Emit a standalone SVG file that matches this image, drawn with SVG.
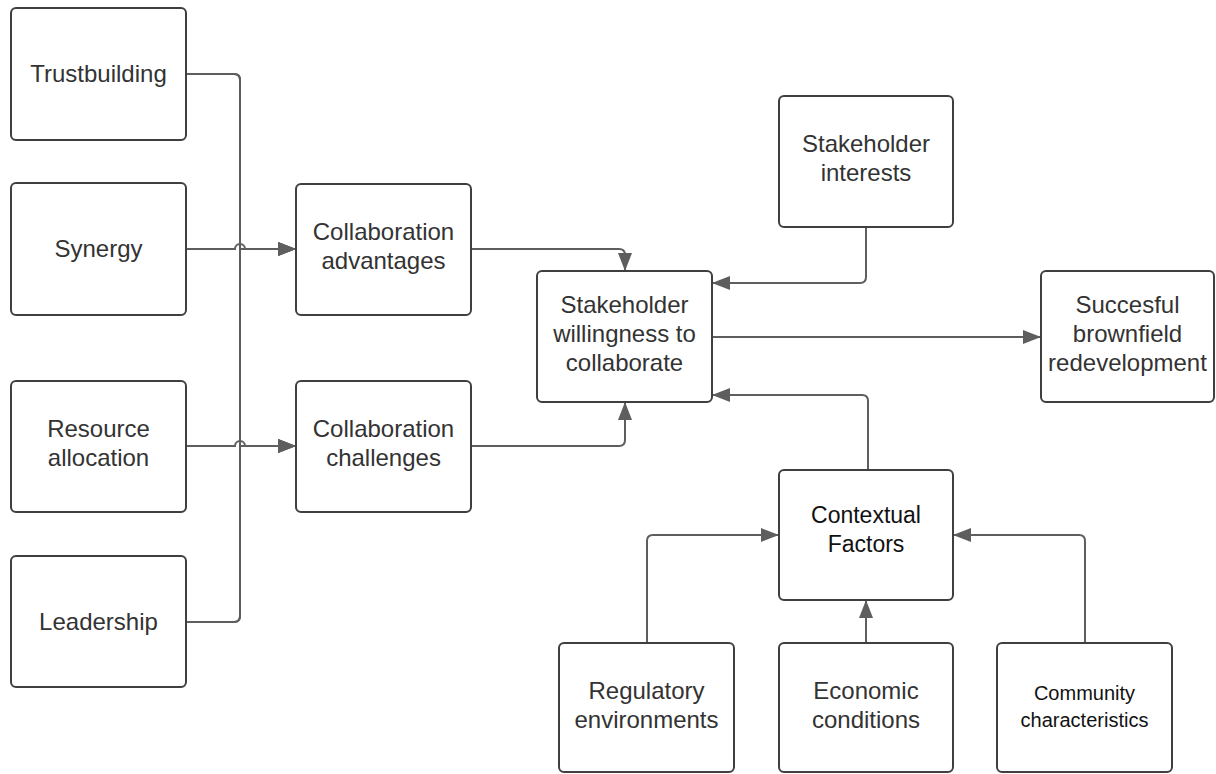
<svg xmlns="http://www.w3.org/2000/svg" width="1216" height="774" viewBox="0 0 1216 774">
  <style>
    .box { fill: #ffffff; stroke: #3f3f3f; stroke-width: 2; }
    .lbl { font-family: "Liberation Sans", Arial, sans-serif; font-size: 24px; fill: #333333; text-anchor: middle; }
    .dark { fill: #111111; font-size: 23px; }
    .small { font-size: 20px; }
    .wire { fill: none; stroke: #5e5e5e; stroke-width: 2; }
    .arrow { marker-end: url(#ah); }
  </style>
  <defs>
    <marker id="ah" markerUnits="userSpaceOnUse" markerWidth="19" markerHeight="15" refX="18" refY="7" orient="auto" overflow="visible">
      <path d="M0,0 L18,7 L0,14 z" fill="#5e5e5e"/>
    </marker>
  </defs>

  <!-- connectors -->
  <g id="connectors">
    <!-- Trustbuilding / Leadership feed the shared vertical bus -->
    <path class="wire arrow" d="M186,74 H234 Q240,74 240,80 V249 H296"/>
    <path class="wire arrow" d="M186,74 H234 Q240,74 240,80 V446 H296"/>
    <path class="wire arrow" d="M186,622 H234 Q240,622 240,616 V249 H296"/>
    <path class="wire arrow" d="M186,622 H234 Q240,622 240,616 V446 H296"/>
    <!-- Synergy / Resource allocation hop over the bus -->
    <path class="wire arrow" d="M186,249 H235 A5,5 0 0 1 245,249 H296"/>
    <path class="wire arrow" d="M186,446 H235 A5,5 0 0 1 245,446 H296"/>
    <!-- into willingness -->
    <path class="wire arrow" d="M471,249 H619 Q625,249 625,255 V271"/>
    <path class="wire arrow" d="M471,446 H619 Q625,446 625,440 V402"/>
    <path class="wire arrow" d="M866,227 V277 Q866,283 860,283 H712"/>
    <path class="wire arrow" d="M868,470 V401 Q868,395 862,395 H712"/>
    <path class="wire arrow" d="M712,337 H1041"/>
    <!-- into contextual factors -->
    <path class="wire arrow" d="M647,643 V541 Q647,535 653,535 H779"/>
    <path class="wire arrow" d="M866,643 V600"/>
    <path class="wire arrow" d="M1085,643 V541 Q1085,535 1079,535 H953"/>
  </g>

  <g id="trustbuilding">
    <rect class="box" x="11" y="8" width="175" height="132" rx="5"/>
    <text class="lbl" x="98.5" y="82">Trustbuilding</text>
  </g>
  <g id="synergy">
    <rect class="box" x="11" y="183" width="175" height="132" rx="5"/>
    <text class="lbl" x="98.5" y="257">Synergy</text>
  </g>
  <g id="resource-allocation">
    <rect class="box" x="11" y="381" width="175" height="131" rx="5"/>
    <text class="lbl" x="98.5" y="437">Resource</text>
    <text class="lbl" x="98.5" y="466">allocation</text>
  </g>
  <g id="leadership">
    <rect class="box" x="11" y="556" width="175" height="131" rx="5"/>
    <text class="lbl" x="98.5" y="630">Leadership</text>
  </g>
  <g id="collaboration-advantages">
    <rect class="box" x="296" y="184" width="175" height="131" rx="5"/>
    <text class="lbl" x="383.5" y="240">Collaboration</text>
    <text class="lbl" x="383.5" y="269">advantages</text>
  </g>
  <g id="collaboration-challenges">
    <rect class="box" x="296" y="381" width="175" height="131" rx="5"/>
    <text class="lbl" x="383.5" y="437">Collaboration</text>
    <text class="lbl" x="383.5" y="466">challenges</text>
  </g>
  <g id="stakeholder-willingness">
    <rect class="box" x="537" y="271" width="175" height="131" rx="5"/>
    <text class="lbl" x="624.5" y="313">Stakeholder</text>
    <text class="lbl" x="624.5" y="342">willingness to</text>
    <text class="lbl" x="624.5" y="371">collaborate</text>
  </g>
  <g id="stakeholder-interests">
    <rect class="box" x="779" y="96" width="174" height="131" rx="5"/>
    <text class="lbl" x="866" y="152">Stakeholder</text>
    <text class="lbl" x="866" y="181">interests</text>
  </g>
  <g id="successful-redevelopment">
    <rect class="box" x="1041" y="271" width="173" height="131" rx="5"/>
    <text class="lbl" x="1127.5" y="313">Succesful</text>
    <text class="lbl" x="1127.5" y="342">brownfield</text>
    <text class="lbl" x="1127.5" y="371">redevelopment</text>
  </g>
  <g id="contextual-factors">
    <rect class="box" x="779" y="470" width="174" height="130" rx="5"/>
    <text class="lbl dark" x="866" y="523">Contextual</text>
    <text class="lbl dark" x="866" y="552">Factors</text>
  </g>
  <g id="regulatory-environments">
    <rect class="box" x="559" y="643" width="175" height="129" rx="5"/>
    <text class="lbl" x="646.5" y="699">Regulatory</text>
    <text class="lbl" x="646.5" y="728">environments</text>
  </g>
  <g id="economic-conditions">
    <rect class="box" x="779" y="643" width="174" height="129" rx="5"/>
    <text class="lbl" x="866" y="699">Economic</text>
    <text class="lbl" x="866" y="728">conditions</text>
  </g>
  <g id="community-characteristics">
    <rect class="box" x="997" y="643" width="175" height="129" rx="5"/>
    <text class="lbl dark small" x="1084.5" y="700">Community</text>
    <text class="lbl dark small" x="1084.5" y="727">characteristics</text>
  </g>
</svg>
